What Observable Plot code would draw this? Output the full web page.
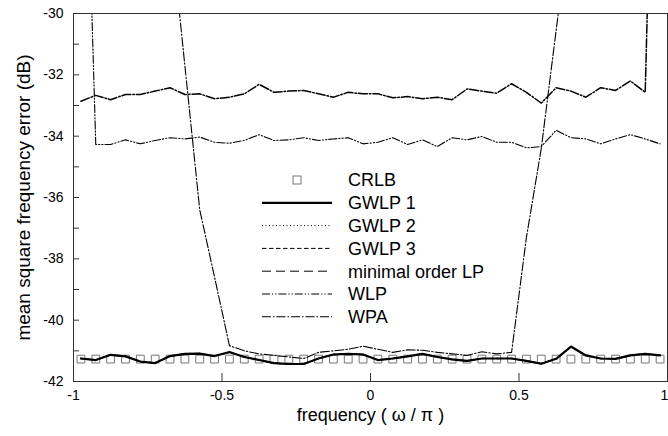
<!DOCTYPE html>
<html><head><meta charset="utf-8">
<script src="https://cdn.jsdelivr.net/npm/d3@7"></script>
<script src="https://cdn.jsdelivr.net/npm/@observablehq/plot@0.6"></script>
<style>
html,body{margin:0;padding:0;background:#fff;}
#chart{position:relative;width:668px;height:436px;font-family:"Liberation Sans",Arial,Helvetica,sans-serif;}
#chart svg{position:absolute;left:0;top:0;}
</style></head><body><div id="chart"></div>
<script>
// ---------- data ----------
const freq = [-0.975,-0.925,-0.875,-0.825,-0.775,-0.725,-0.675,-0.625,-0.575,-0.525,-0.475,-0.425,-0.375,-0.325,-0.275,-0.225,-0.175,-0.125,-0.075,-0.025,0.025,0.075,0.125,0.175,0.225,0.275,0.325,0.375,0.425,0.475,0.525,0.575,0.625,0.675,0.725,0.775,0.825,0.875,0.925,0.975];

const crlb = [-41.27,-41.27,-41.27,-41.27,-41.27,-41.27,-41.27,-41.27,-41.27,-41.27,-41.27,-41.27,-41.27,-41.27,-41.27,-41.27,-41.27,-41.27,-41.27,-41.27,-41.27,-41.27,-41.27,-41.27,-41.27,-41.27,-41.27,-41.27,-41.27,-41.27,-41.27,-41.27,-41.27,-41.27,-41.27,-41.27,-41.27,-41.27,-41.27,-41.27];

const gwlp1 = [-41.25,-41.30,-41.13,-41.18,-41.35,-41.40,-41.17,-41.10,-41.09,-41.17,-41.04,-41.20,-41.30,-41.40,-41.43,-41.43,-41.25,-41.12,-41.10,-41.12,-41.30,-41.25,-41.18,-41.10,-41.20,-41.28,-41.33,-41.25,-41.25,-41.25,-41.33,-41.42,-41.26,-40.86,-41.15,-41.25,-41.26,-41.15,-41.10,-41.15];
const gwlp2 = [-41.26,-41.29,-41.14,-41.19,-41.34,-41.39,-41.18,-41.11,-41.10,-41.16,-41.06,-41.21,-41.29,-41.39,-41.42,-41.42,-41.26,-41.13,-41.11,-41.13,-41.29,-41.26,-41.19,-41.11,-41.21,-41.27,-41.32,-41.26,-41.24,-41.26,-41.32,-41.41,-41.27,-40.88,-41.16,-41.24,-41.27,-41.16,-41.11,-41.16];
const gwlp3 = [-41.24,-41.31,-41.12,-41.17,-41.36,-41.41,-41.16,-41.09,-41.08,-41.18,-41.05,-41.19,-41.31,-41.41,-41.44,-41.44,-41.24,-41.11,-41.09,-41.11,-41.31,-41.24,-41.17,-41.09,-41.19,-41.29,-41.34,-41.24,-41.26,-41.24,-41.34,-41.43,-41.25,-40.87,-41.14,-41.26,-41.25,-41.14,-41.09,-41.14];
const minLP = [-41.25,-41.30,-41.14,-41.18,-41.35,-41.40,-41.18,-41.10,-41.10,-41.17,-41.05,-41.20,-41.30,-41.40,-41.43,-41.43,-41.25,-41.12,-41.10,-41.12,-41.30,-41.25,-41.18,-41.10,-41.20,-41.28,-41.33,-41.25,-41.25,-41.25,-41.33,-41.42,-41.26,-40.87,-41.15,-41.25,-41.26,-41.15,-41.10,-41.15];

// dash-dot-dot curve, breaks down near -pi
const wlp = [-18.0,-34.27,-34.27,-34.12,-34.25,-34.14,-34.05,-34.09,-34.03,-34.20,-34.23,-34.14,-33.95,-34.14,-34.12,-34.05,-34.14,-34.09,-34.05,-34.25,-34.20,-34.05,-34.27,-34.12,-34.34,-34.05,-34.12,-34.01,-34.20,-34.20,-34.38,-34.34,-33.81,-34.05,-34.09,-34.25,-34.09,-33.95,-34.09,-34.25];
// dash-dot curve, breaks down near +pi
const wpa = [-32.86,-32.67,-32.81,-32.64,-32.64,-32.53,-32.42,-32.64,-32.62,-32.78,-32.73,-32.62,-32.31,-32.57,-32.53,-32.51,-32.62,-32.73,-32.57,-32.62,-32.62,-32.75,-32.71,-32.78,-32.73,-32.81,-32.46,-32.53,-32.60,-32.29,-32.57,-32.92,-32.42,-32.53,-32.73,-32.42,-32.51,-32.20,-32.57,-13.5];
// dash-dot curve, breaks down for |w| > pi/2
const wpaV = [-20,-20,-20,-20,-20,-20,-27.0,-31.7,-36.4,-38.6,-40.83,-41.00,-41.10,-41.15,-41.20,-41.25,-41.05,-41.00,-40.95,-40.85,-40.95,-41.05,-40.97,-40.98,-41.05,-41.10,-41.15,-41.03,-41.10,-41.05,-37.3,-34.4,-30.55,-26.7,-20,-20,-20,-20,-20,-20];

const xTicks = [-1, -0.5, 0, 0.5, 1];
const yTicks = [-42, -40, -38, -36, -34, -32, -30];
const yMinorTicks = [-41, -39, -37, -35, -33, -31];
const legendNames = ["CRLB", "GWLP 1", "GWLP 2", "GWLP 3", "minimal order LP", "WLP", "WPA"];
const xLabel = "frequency ( \u03c9 / \u03c0 )";
const yLabel = "mean square frequency error (dB)";

// ---------- styles ----------
const styles = {
  "GWLP 1": {w: 2.2, dash: null},
  "GWLP 2": {w: 1, dash: "1,2.5"},
  "GWLP 3": {w: 1, dash: "4.5,2.5"},
  "minimal order LP": {w: 1, dash: "9,5"},
  "WLP": {w: 1.1, dash: "8,2,1.2,2,1.2,2"},
  "WPA": {w: 1.1, dash: "9,2,1.5,2"}
};

const W = 668, H = 436, mL = 73, mR = 1, mT = 13, mB = 55;
const innerW = W - mL - mR, innerH = H - mT - mB;

const table = arr => freq.map((f, i) => ({f, v: arr[i]}));
const lineMark = (arr, name, extra = {}) => Plot.line(table(arr), {
  x: "f", y: "v", stroke: "#000", strokeWidth: extra.w ?? styles[name].w,
  strokeDasharray: styles[name].dash, clip: true
});
const fmt = d => String(d);

const plot = Plot.plot({
  width: W, height: H,
  marginLeft: mL, marginRight: mR, marginTop: mT, marginBottom: mB,
  style: {fontFamily: '"Liberation Sans", Arial, Helvetica, sans-serif', fontSize: "14px", background: "white", color: "black", overflow: "visible"},
  x: {domain: [-1, 1]},
  y: {domain: [-42, -30]},
  marks: [
    Plot.dot(table(crlb), {x: "f", y: "v", symbol: "square", r: 4.4, stroke: "#777", strokeWidth: 1, fill: "none"}),
    lineMark(minLP, "minimal order LP"),
    lineMark(gwlp3, "GWLP 3"),
    lineMark(gwlp2, "GWLP 2"),
    lineMark(wpaV, "WPA"),
    lineMark(wlp, "WLP"),
    lineMark(wpa, "WPA", {w: 1.5}),
    lineMark(gwlp1, "GWLP 1"),
    Plot.frame({stroke: "#333", strokeWidth: 1}),
    Plot.tickY(yTicks.concat(yMinorTicks), {y: d => d, insetRight: innerW - 6, stroke: "#333"}),
    Plot.tickX(xTicks, {x: d => d, insetTop: innerH - 8, stroke: "#333"}),
    Plot.axisY({ticks: yTicks, tickSize: 0, tickPadding: 10, tickFormat: fmt, fontSize: 14, label: null}),
    Plot.axisX({ticks: xTicks.slice(0, -1), tickSize: 0, tickPadding: 9, tickFormat: fmt, fontSize: 14, label: null}),
    Plot.axisX({ticks: xTicks.slice(-1), tickSize: 0, tickPadding: 9, tickFormat: fmt, fontSize: 14, label: null, dx: -3}),
    Plot.text([yLabel], {frameAnchor: "left", textAnchor: "middle", dx: -50, rotate: -90, fontSize: 19}),
    Plot.text([xLabel], {frameAnchor: "bottom", textAnchor: "middle", dy: 39, fontSize: 18})
  ]
});
document.getElementById("chart").appendChild(plot);

// ---------- legend overlay ----------
const leg = d3.select("#chart").append("svg").attr("width", W).attr("height", H)
  .style("pointer-events", "none");
const lx0 = 262, lx1 = 332, tx = 348, ly0 = 180, dy = 22.8;
legendNames.forEach((name, i) => {
  const y = ly0 + i * dy;
  if (name === "CRLB") {
    leg.append("rect").attr("x", (lx0 + lx1) / 2 - 4).attr("y", y - 4).attr("width", 8).attr("height", 8)
      .attr("fill", "none").attr("stroke", "#777").attr("stroke-width", 1);
  } else {
    const s = styles[name];
    leg.append("line").attr("x1", lx0).attr("x2", lx1).attr("y1", y).attr("y2", y)
      .attr("stroke", "#000").attr("stroke-width", s.w).attr("stroke-dasharray", s.dash);
  }
  leg.append("text").attr("x", tx).attr("y", y).attr("dy", "0.35em")
    .attr("font-size", 18).attr("font-family", '"Liberation Sans", Arial, Helvetica, sans-serif')
    .text(name);
});
</script>
</body></html>
